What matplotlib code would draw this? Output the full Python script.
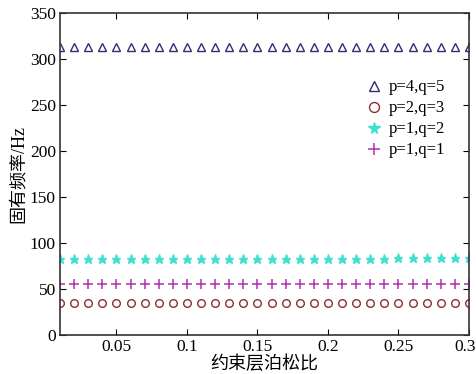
import numpy as np
import matplotlib
matplotlib.use('Agg')
import matplotlib.pyplot as plt
import matplotlib.transforms as mtransforms

plt.rcParams['font.family'] = ['Liberation Serif', 'Noto Sans CJK SC']

# poisson ratio of constraint layer
nu = [0.01, 0.02, 0.03, 0.04, 0.05, 0.06, 0.07, 0.08, 0.09, 0.10,
      0.11, 0.12, 0.13, 0.14, 0.15, 0.16, 0.17, 0.18, 0.19, 0.20,
      0.21, 0.22, 0.23, 0.24, 0.25, 0.26, 0.27, 0.28, 0.29, 0.30]

f45 = [313] * 30
f23 = [35] * 30
f12 = [83] * 24 + [84] * 6
f11 = [56] * 30

fig = plt.figure(figsize=(4.77, 3.74), dpi=100)
ax = fig.add_axes([0.126, 0.104, 0.857, 0.861])

ax.plot(nu, f45, ls='none', marker='^', ms=5.5, mfc='none', mec='#2e2e70', mew=1.0, label='p=4,q=5')
ax.plot(nu, f23, ls='none', marker='o', ms=5.5, mfc='none', mec='#8b3030', mew=1.0, label='p=2,q=3')
ax.plot(nu, f12, ls='none', marker='*', ms=6.5, color='#40e0d0', label='p=1,q=2')
ax.plot(nu, f11, ls='none', marker='+', ms=6.5, color='#b030b0', mew=1.1, label='p=1,q=1')

ax.set_xlim(0.01, 0.3)
ax.set_ylim(0, 350)
ax.set_xticks([0.05, 0.1, 0.15, 0.2, 0.25, 0.3])
ax.set_xticklabels(['0.05', '0.1', '0.15', '0.2', '0.25', '0.3'])
ax.set_yticks(range(0, 351, 50))
ax.tick_params(direction='in', top=True, right=True, labelsize=12.5, length=4, pad=3)
for s in ax.spines.values():
    s.set_color('#333333')
    s.set_linewidth(1.2)

# last x label sits at the figure edge, nudge it left a bit
last = ax.get_xticklabels()[-1]
last.set_transform(last.get_transform() + mtransforms.ScaledTranslation(-4 / 100, 0, fig.dpi_scale_trans))

ax.set_xlabel('约束层泊松比', fontsize=13, labelpad=0)
ax.set_ylabel('固有频率/Hz', fontsize=13, labelpad=2)

ax.legend(loc='upper right', bbox_to_anchor=(0.97, 0.83), frameon=False, fontsize=12,
          markerscale=1.3, handlelength=1.0, handletextpad=0.4, labelspacing=0.3, borderpad=0.2)

fig.savefig('out.png', dpi=100)
